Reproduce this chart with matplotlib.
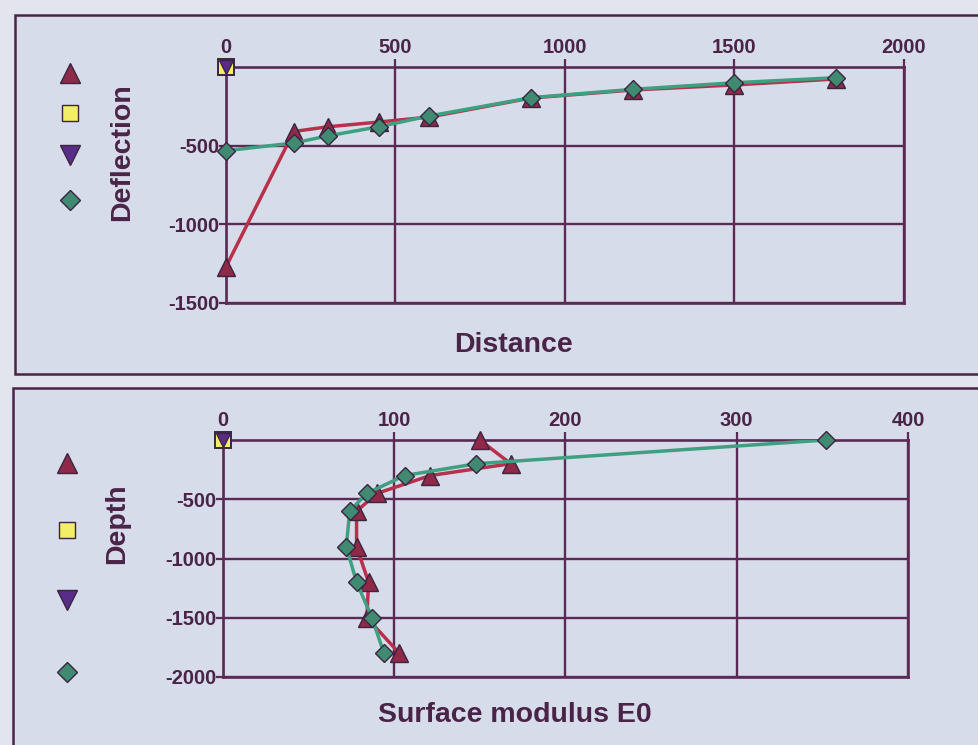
import matplotlib
matplotlib.use("Agg")
import matplotlib.pyplot as plt
from matplotlib.patches import Rectangle
from matplotlib.lines import Line2D

plt.rcParams["axes.unicode_minus"] = False

# ---------------- data ----------------
distance = [0, 200, 300, 450, 600, 900, 1200, 1500, 1800]
deflection_measured = [-1270, -410, -380, -350, -318, -197, -146, -114, -76]
deflection_computed = [-532, -483, -438, -380, -311, -195, -142, -100, -68]
origin_x = [0]
origin_y = [0]

depth = [0, -200, -300, -450, -600, -900, -1200, -1500, -1800]
modulus_measured = [150, 168, 121, 90, 78, 78, 85, 84, 103]
modulus_computed = [352, 148, 106, 84, 74, 72, 78, 87, 94]

top_xticks = [0, 500, 1000, 1500, 2000]
top_yticks = [-1500, -1000, -500]
bot_xticks = [0, 100, 200, 300, 400]
bot_yticks = [-2000, -1500, -1000, -500]

# ---------------- style ----------------
W, H = 979, 745
FONT = "Liberation Sans"
INK = "#4a2448"
GRID = "#5a2a55"
BG_OUT = "#e2e5ee"
BG_PANEL = "#d7dcea"
RED_LINE = "#b8304c"
RED_MK = "#8e2a48"
GREEN_LINE = "#3ea080"
GREEN_MK = "#3f8a70"
YELLOW = "#f2ee66"
PURPLE = "#5a2c8a"
EDGE = "#3a2440"

fig = plt.figure(figsize=(W / 100, H / 100), dpi=100, facecolor=BG_OUT)

def fx(px):
    return px / W

def fy(py):
    return 1 - py / H

# panel frames
fig.add_artist(Rectangle((fx(15), fy(374)), fx(1000 - 15), fy(15) - fy(374),
                         transform=fig.transFigure, facecolor=BG_PANEL,
                         edgecolor=INK, linewidth=1.8, zorder=0))
fig.add_artist(Rectangle((fx(13), fy(760)), fx(1000 - 13), fy(388) - fy(760),
                         transform=fig.transFigure, facecolor=BG_PANEL,
                         edgecolor=INK, linewidth=1.8, zorder=0))

def style_axes(ax, xlim, ylim, xticks, yticks):
    ax.set_facecolor("none")
    ax.set_xlim(*xlim)
    ax.set_ylim(*ylim)
    ax.xaxis.tick_top()
    ax.set_xticks(xticks)
    ax.set_yticks(yticks)
    ax.grid(True, color=GRID, linewidth=1.7)
    ax.set_axisbelow(True)
    for s in ax.spines.values():
        s.set_color(GRID)
        s.set_linewidth(1.9)
    ax.tick_params(axis="x", colors=GRID, length=6, width=1.6, pad=1,
                   labelsize=14.5, labelcolor=INK)
    ax.tick_params(axis="y", colors=GRID, length=5, width=1.6, pad=0,
                   labelsize=14.5, labelcolor=INK)
    for lab in ax.get_xticklabels() + ax.get_yticklabels():
        lab.set_fontfamily(FONT)
        lab.set_fontweight("bold")

def plot_series(ax, xm, ym, xc, yc):
    ax.plot(xm, ym, color=RED_LINE, linewidth=2.5, zorder=3)
    ax.plot(xm, ym, linestyle="none", marker="^", markersize=13,
            markerfacecolor=RED_MK, markeredgecolor=EDGE, markeredgewidth=1.0,
            zorder=4, clip_on=False)
    ax.plot(origin_x, origin_y, linestyle="none", marker="s", markersize=11,
            markerfacecolor=YELLOW, markeredgecolor=EDGE, markeredgewidth=1.4,
            zorder=5, clip_on=False)
    ax.plot(origin_x, origin_y, linestyle="none", marker="v", markersize=10,
            markerfacecolor=PURPLE, markeredgecolor=EDGE, markeredgewidth=1.0,
            zorder=6, clip_on=False)
    ax.plot(xc, yc, color=GREEN_LINE, linewidth=2.5, zorder=7)
    ax.plot(xc, yc, linestyle="none", marker="D", markersize=9.5,
            markerfacecolor=GREEN_MK, markeredgecolor=EDGE, markeredgewidth=1.0,
            zorder=8, clip_on=False)

# ---------------- top chart ----------------
ax1 = fig.add_axes([fx(226), fy(303), fx(904 - 226), fy(67) - fy(303)])
style_axes(ax1, (0, 2000), (-1500, 0), top_xticks, top_yticks)
plot_series(ax1, distance, deflection_measured, distance, deflection_computed)

# ---------------- bottom chart ----------------
ax2 = fig.add_axes([fx(223), fy(677), fx(908 - 223), fy(440) - fy(677)])
style_axes(ax2, (0, 400), (-2000, 0), bot_xticks, bot_yticks)
plot_series(ax2, modulus_measured, depth, modulus_computed, depth)

# ---------------- axis titles ----------------
lab_kw = dict(fontfamily=FONT, fontweight="bold", fontsize=20.5, color=INK,
              ha="center", va="center")
fig.text(fx(514), fy(345), "Distance", **lab_kw)
fig.text(fx(122), fy(152), "Deflection", rotation=90, **lab_kw)
fig.text(fx(515), fy(715), "Surface modulus E0", **lab_kw)
fig.text(fx(117), fy(524), "Depth", rotation=90, **lab_kw)

# ---------------- legend markers (no labels) ----------------
def legend_markers(x, ys):
    specs = [("^", RED_MK, 15), ("s", YELLOW, 12), ("v", PURPLE, 15), ("D", GREEN_MK, 10.5)]
    for (m, c, s), y in zip(specs, ys):
        fig.add_artist(Line2D([fx(x)], [fy(y)], transform=fig.transFigure,
                              linestyle="none", marker=m, markersize=s,
                              markerfacecolor=c, markeredgecolor=EDGE,
                              markeredgewidth=1.0))

legend_markers(70, [73, 113, 155, 200])
legend_markers(67, [463, 530, 600, 672])

fig.savefig("out.png", dpi=100, facecolor=BG_OUT)
